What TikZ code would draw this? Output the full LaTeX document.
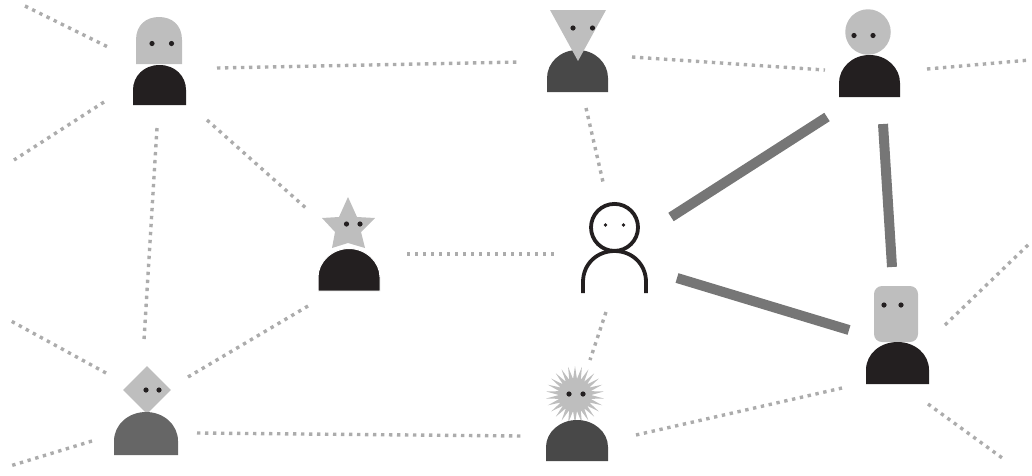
\documentclass[tikz,border=0pt]{standalone}
\usepackage{tikz}
\usetikzlibrary{shapes.geometric}
\definecolor{head}{RGB}{190, 190, 190}
\definecolor{black1}{RGB}{35, 31, 32}
\definecolor{dark}{RGB}{72, 72, 72}
\definecolor{mid}{RGB}{102, 102, 102}
\definecolor{tie}{RGB}{118, 118, 118}
\definecolor{dot}{RGB}{172, 172, 172}
\tikzset{
  dots/.style={color=dot, line width=3.4, dash pattern=on 3.4pt off 4.6pt},
  strong/.style={color=tie, line width=10},
  face/.style={fill=head, draw=none, inner sep=0},
  eye/.style={fill=black1}
}

\begin{document}
\begin{tikzpicture}[x=1pt, y=-1pt]
  \useasboundingbox (0, 0) rectangle (1032, 475);

  % ends of the links
  \coordinate (hood-a) at (25, 6);       \coordinate (a-hood) at (108, 47);
  \coordinate (hood-b) at (104, 102);    \coordinate (b-hood) at (14, 160);
  \coordinate (hood-vee) at (217, 68);   \coordinate (vee-hood) at (520, 62);
  \coordinate (vee-ball) at (632, 57);   \coordinate (ball-vee) at (825, 70);
  \coordinate (ball-c) at (927, 69);     \coordinate (c-ball) at (1030, 60);
  \coordinate (hood-kite) at (157, 128); \coordinate (kite-hood) at (144, 340);
  \coordinate (hood-star) at (207, 120); \coordinate (star-hood) at (307, 209);
  \coordinate (star-you) at (407, 254);  \coordinate (you-star) at (554, 254);
  \coordinate (vee-you) at (586, 108);   \coordinate (you-vee) at (603, 182);
  \coordinate (star-kite) at (308, 306); \coordinate (kite-star) at (188, 377);
  \coordinate (kite-d) at (106, 373);    \coordinate (d-kite) at (11, 321);
  \coordinate (kite-e) at (92, 441);     \coordinate (e-kite) at (10, 466);
  \coordinate (kite-spike) at (197, 433); \coordinate (spike-kite) at (521, 436);
  \coordinate (you-spike) at (606, 312); \coordinate (spike-you) at (590, 360);
  \coordinate (spike-box) at (636, 435); \coordinate (box-spike) at (842, 388);
  \coordinate (box-f) at (945, 325);     \coordinate (f-box) at (1030, 243);
  \coordinate (box-g) at (928, 404);     \coordinate (g-box) at (1005, 460);
  \coordinate (you-ball) at (671, 217);  \coordinate (ball-you) at (827, 117);
  \coordinate (ball-box) at (883, 124);  \coordinate (box-ball) at (892, 267);
  \coordinate (you-box) at (677, 278);   \coordinate (box-you) at (849, 330);

  % weak links
  \draw[dots] (hood-a) -- (a-hood);
  \draw[dots] (hood-b) -- (b-hood);
  \draw[dots] (hood-vee) -- (vee-hood);
  \draw[dots] (vee-ball) -- (ball-vee);
  \draw[dots] (ball-c) -- (c-ball);
  \draw[dots] (hood-kite) -- (kite-hood);
  \draw[dots] (hood-star) -- (star-hood);
  \draw[dots] (star-you) -- (you-star);
  \draw[dots] (vee-you) -- (you-vee);
  \draw[dots] (star-kite) -- (kite-star);
  \draw[dots] (kite-d) -- (d-kite);
  \draw[dots] (kite-e) -- (e-kite);
  \draw[dots] (kite-spike) -- (spike-kite);
  \draw[dots] (you-spike) -- (spike-you);
  \draw[dots] (spike-box) -- (box-spike);
  \draw[dots] (box-f) -- (f-box);
  \draw[dots] (box-g) -- (g-box);

  % strong links
  \draw[strong] (you-ball) -- (ball-you);
  \draw[strong] (ball-box) -- (box-ball);
  \draw[strong] (you-box) -- (box-you);

  % top left, head with a round top
  \fill[head] (136, 64) -- (136, 40) .. controls (136, 25) and (146, 17) .. (159, 17)
    .. controls (172, 17) and (182, 25) .. (182, 40) -- (182, 64) -- cycle;
  \fill[black1] (133, 105) -- (133, 90) .. controls (133, 76) and (144, 65) .. (159.5, 65)
    .. controls (175, 65) and (186, 76) .. (186, 90) -- (186, 105) -- cycle;
  \fill[eye] (152, 43.5) circle (2.6);
  \fill[eye] (171.5, 43.5) circle (2.6);

  % top middle
  \fill[dark] (547, 92) -- (547, 78) .. controls (547, 63) and (560, 50) .. (577.5, 50)
    .. controls (595, 50) and (608, 63) .. (608, 78) -- (608, 92) -- cycle;
  \fill[head] (550, 10) -- (606, 10) -- (578, 61) -- cycle;
  \fill[eye] (573, 28) circle (2.6);
  \fill[eye] (592.5, 28) circle (2.6);

  % top right
  \node[face, circle, minimum size=45.5] (ball) at (868, 32) {};
  \fill[black1] (839, 97) -- (839, 83) .. controls (839, 68) and (852, 55) .. (869.5, 55)
    .. controls (887, 55) and (900, 68) .. (900, 83) -- (900, 97) -- cycle;
  \fill[eye] (854, 35.5) circle (2.6);
  \fill[eye] (873, 35.5) circle (2.6);

  % star
  \fill[head] (348, 197) -- (339, 217) -- (322, 218) -- (335, 232) -- (332, 248)
    -- (348, 243) -- (365, 248) -- (361, 232) -- (375, 218) -- (357, 217) -- cycle;
  \filldraw[fill=black1, draw=white, line width=1] (318, 291) -- (318, 277)
    .. controls (318, 262) and (332, 248.5) .. (349, 248.5)
    .. controls (366, 248.5) and (380, 262) .. (380, 277) -- (380, 291) -- cycle;
  \fill[eye] (346.5, 224) circle (2.6);
  \fill[eye] (360, 224) circle (2.6);

  % outline figure in the middle
  \draw[black1, line width=3.8] (614.5, 227.4) circle (23.5);
  \draw[black1, line width=3.8] (583, 293) -- (583, 282)
    .. controls (583, 264) and (597, 251) .. (614.5, 251)
    .. controls (632, 251) and (646, 264) .. (646, 282) -- (646, 293);
  \fill[eye] (605.5, 225) circle (1.8);
  \fill[eye] (623.5, 225) circle (1.8);

  % bottom left
  \node[face, diamond, minimum size=48] (kite) at (147, 390) {};
  \fill[mid] (114, 455) -- (114, 441) .. controls (114, 425) and (128, 412) .. (146, 412)
    .. controls (164, 412) and (178, 425) .. (178, 441) -- (178, 455) -- cycle;
  \fill[eye] (146, 390) circle (2.6);
  \fill[eye] (159, 390) circle (2.6);

  % bottom middle
  \node[face, star, star points=26, star point ratio=1.8, minimum size=58] (spike) at (575, 395) {};
  \fill[dark] (546, 461) -- (546, 447) .. controls (546, 432) and (560, 420) .. (577, 420)
    .. controls (594, 420) and (608, 432) .. (608, 447) -- (608, 461) -- cycle;
  \fill[eye] (569, 394) circle (2.6);
  \fill[eye] (583, 394) circle (2.6);

  % right, square head
  \fill[head, rounded corners=8] (874, 286) rectangle (918, 342);
  \fill[black1] (866, 384) -- (866, 370) .. controls (866, 354) and (880, 342) .. (897.5, 342)
    .. controls (915, 342) and (929, 354) .. (929, 370) -- (929, 384) -- cycle;
  \fill[eye] (884, 305) circle (2.6);
  \fill[eye] (901, 305) circle (2.6);
\end{tikzpicture}
\end{document}
